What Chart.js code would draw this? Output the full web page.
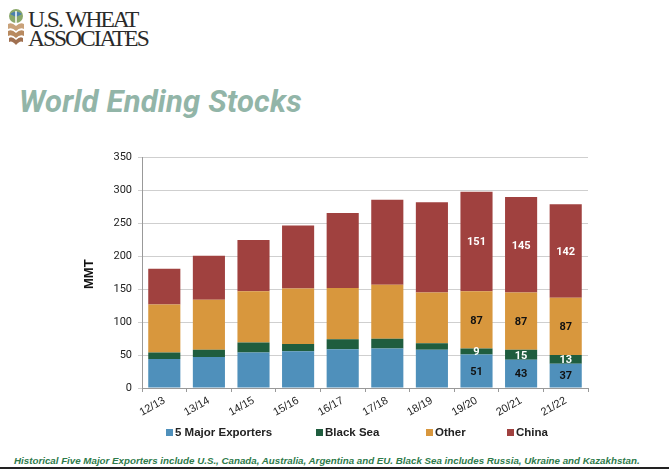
<!DOCTYPE html>
<html><head><meta charset="utf-8">
<script src="https://cdn.jsdelivr.net/npm/chart.js@4.4.1/dist/chart.umd.min.js"></script>
<style>
html,body{margin:0;padding:0;background:#fff;width:669px;height:471px;overflow:hidden;position:relative;font-family:"Liberation Sans",Arial,sans-serif}
#logo{position:absolute;left:4px;top:8px;width:150px;height:42px}
#logo .t{position:absolute;left:24px;font-family:"Liberation Serif",serif;color:#2a2a2a;font-size:23.5px;letter-spacing:-2px;line-height:20px}
#title{position:absolute;left:19px;top:83px;font-family:Roboto,sans-serif;font-weight:700;font-style:italic;font-size:31px;color:#92b5a8;letter-spacing:0.2px}
#wrap{position:absolute;left:0;top:145px;width:600px;height:295px}
#mmt{position:absolute;left:81px;top:289px;transform:rotate(-90deg);transform-origin:left top;font-weight:700;font-size:13px;color:#111}
#legend{position:absolute;top:426px;left:0;width:669px;height:14px;font-weight:700;font-size:11.5px;color:#222}
#legend span{position:absolute;white-space:nowrap}
#legend i{display:inline-block;width:7px;height:7px;margin-right:2px;vertical-align:0px}
#foot{position:absolute;left:14px;top:455px;font-weight:700;font-style:italic;font-size:9.75px;color:#2d7a4a;white-space:nowrap}
#line{position:absolute;left:0;top:467px;width:669px;height:2px;background:#222}
</style></head><body>
<div id="logo">
<svg width="24" height="40" style="position:absolute;left:0;top:0">
<circle cx="12" cy="8" r="7" fill="#8aa86a"/>
<path d="M6 6 Q12 1 18 6 L12 9Z" fill="#4a7fae"/>
<path d="M12 3 L12 16" stroke="#fff" stroke-width="1.5"/>
<path d="M4 16 Q8 14 12 18 Q16 14 20 16 L20 21 Q16 19 12 23 Q8 19 4 21Z" fill="#c9a27a"/>
<path d="M4 23 Q8 21 12 25 Q16 21 20 23 L20 28 Q16 26 12 30 Q8 26 4 28Z" fill="#b88a60"/>
<path d="M5 30 Q8 28 12 32 Q16 28 19 30 L19 34 Q16 32 12 37 Q8 32 5 34Z" fill="#a07050"/>
</svg>
<div class="t" style="top:1px">U.S. WHEAT</div>
<div class="t" style="top:20px">ASSOCIATES</div>
</div>
<div id="title">World Ending Stocks</div>
<div id="wrap"><canvas id="c"></canvas></div>
<div id="mmt">MMT</div>
<div id="legend"></div>
<div id="foot">Historical Five Major Exporters include U.S., Canada, Australia, Argentina and EU. Black Sea includes Russia, Ukraine and Kazakhstan.</div>
<div id="line"></div>
<script>
const categories = ['12/13','13/14','14/15','15/16','16/17','17/18','18/19','19/20','20/21','21/22'];
const majorExporters = [44, 47, 54, 56, 59, 60, 58, 51, 43, 37];
const blackSea = [10, 11, 15, 11, 15, 15, 10, 9, 15, 13];
const other = [73, 76, 78, 84, 78, 82, 77, 87, 87, 87];
const china = [54, 67, 78, 96, 114, 129, 137, 151, 145, 142];
const labelledCategories = ['19/20','20/21','21/22'];
const yTicks = [0, 50, 100, 150, 200, 250, 300, 350];

const seriesNames = ['5 Major Exporters','Black Sea','Other','China'];
const seriesColors = ['#4f90bb','#1f5d3e','#d8973d','#a0413f'];
const labelColors = ['#111','#fff','#111','#fff'];
const seriesData = [majorExporters, blackSea, other, china];

const datasets = seriesData.map((d,i)=>({
  label: seriesNames[i], data: d, backgroundColor: seriesColors[i],
  borderWidth: 0, barPercentage: 0.72, categoryPercentage: 1.0, stack: 's'
}));

const valueLabels = {
  id: 'valueLabels',
  afterDatasetsDraw(chart){
    const ctx = chart.ctx;
    ctx.save();
    ctx.font = 'bold 11px "Liberation Sans Narrow", Roboto, sans-serif';
    ctx.textAlign = 'center'; ctx.textBaseline = 'middle';
    chart.data.datasets.forEach((ds,di)=>{
      const meta = chart.getDatasetMeta(di);
      meta.data.forEach((bar,j)=>{
        if(!labelledCategories.includes(categories[j])) return;
        const yc = (bar.y + bar.base)/2;
        ctx.fillStyle = labelColors[di];
        ctx.fillText(String(ds.data[j]), bar.x, yc + 1);
      });
    });
    ctx.restore();
  }
};

new Chart(document.getElementById('c'), {
  type: 'bar',
  data: { labels: categories, datasets },
  options: {
    responsive: true, maintainAspectRatio: false, animation: false,
    layout: { padding: { top: 7, right: 12, left: 0, bottom: 0 } },
    plugins: { legend: { display: false }, tooltip: { enabled: false } },
    scales: {
      x: {
        stacked: true,
        grid: { display: true, drawOnChartArea: false, offset: true, tickLength: 4, color: '#999' },
        border: { color: '#999' },
        ticks: { minRotation: 30, maxRotation: 30, color: '#222', font: { family: '"Liberation Sans", Arial, sans-serif', size: 11 }, padding: 2 },
        afterFit(s){ s.height = 52; }
      },
      y: {
        stacked: true, min: 0, max: 350,
        afterBuildTicks(s){ s.ticks = yTicks.map(v=>({value:v})); },
        grid: { color: '#cfcfcf', tickLength: 4, lineWidth: 1 },
        border: { color: '#999' },
        ticks: { color: '#222', font: { family: '"Liberation Sans Narrow", Roboto, sans-serif', size: 11 }, padding: 6 },
        afterFit(s){ s.width = 142; }
      }
    }
  },
  plugins: [valueLabels]
});

const legendPos = [166, 316, 426, 507];
const lg = document.getElementById('legend');
seriesNames.forEach((n,i)=>{
  const s = document.createElement('span');
  s.style.left = legendPos[i] + 'px';
  s.innerHTML = '<i style="background:'+seriesColors[i]+'"></i>' + n;
  lg.appendChild(s);
});
</script>
</body></html>
